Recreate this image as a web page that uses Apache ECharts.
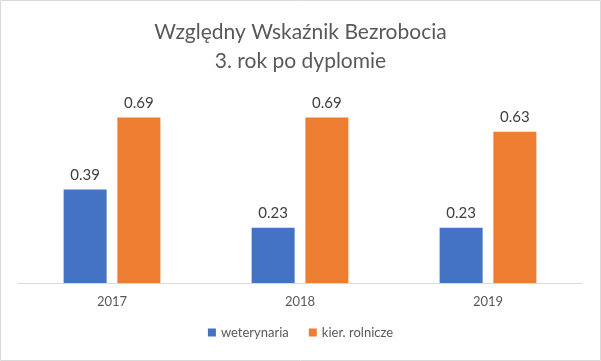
<!DOCTYPE html>
<html>
<head>
<meta charset="utf-8">
<script src="https://cdn.jsdelivr.net/npm/echarts@6/dist/echarts.min.js"></script>
<style>
html,body{margin:0;padding:0;background:#fff;}
#c{width:601px;height:361px;}
</style>
</head>
<body>
<div id="c"></div>
<script>
var categories = ['2017', '2018', '2019'];
var weterynaria = [0.39, 0.23, 0.23];
var kierRolnicze = [0.69, 0.69, 0.63];
var seriesNames = ['weterynaria', 'kier. rolnicze'];
var titleLines = ['Względny Wskaźnik Bezrobocia', '3. rok po dyplomie'];

var FONT = 'Lato, "Open Sans", sans-serif';
var chart = echarts.init(document.getElementById('c'), null, {renderer: 'canvas'});
var labelCfg = {
  show: true, position: 'top', distance: 7,
  color: '#404040', fontSize: 15, fontFamily: FONT,
  formatter: function (p) { return p.value.toFixed(2); }
};
chart.setOption({
  animation: false,
  backgroundColor: '#fff',
  title: {
    text: titleLines.join('\n'),
    left: 'center', top: 13,
    textStyle: {color: '#595959', fontSize: 21, fontWeight: 'normal', fontFamily: FONT, lineHeight: 29}
  },
  graphic: [{
    type: 'rect', silent: true, z: 100,
    shape: {x: 0.5, y: 0.5, width: 600, height: 360},
    style: {fill: 'none', stroke: '#d9d9d9', lineWidth: 1}
  }],
  legend: {
    bottom: 17, left: 'center',
    itemWidth: 8, itemHeight: 8, itemGap: 20,
    icon: 'rect',
    textStyle: {color: '#595959', fontSize: 13, fontFamily: FONT},
    data: seriesNames
  },
  grid: {left: 18, right: 19, top: 91, bottom: 78},
  xAxis: {
    type: 'category', data: categories,
    axisLine: {lineStyle: {color: '#d9d9d9', width: 1}},
    axisTick: {show: false},
    axisLabel: {color: '#595959', fontSize: 13, fontFamily: FONT, margin: 12}
  },
  yAxis: {type: 'value', min: 0, max: 0.8, show: false, splitLine: {show: false}},
  series: [
    {name: seriesNames[0], type: 'bar', data: weterynaria, barWidth: 43, barGap: '25%',
     itemStyle: {color: '#4472C4'}, label: labelCfg},
    {name: seriesNames[1], type: 'bar', data: kierRolnicze, barWidth: 43, barGap: '25%',
     itemStyle: {color: '#ED7D31'}, label: labelCfg}
  ]
});
</script>
</body>
</html>
